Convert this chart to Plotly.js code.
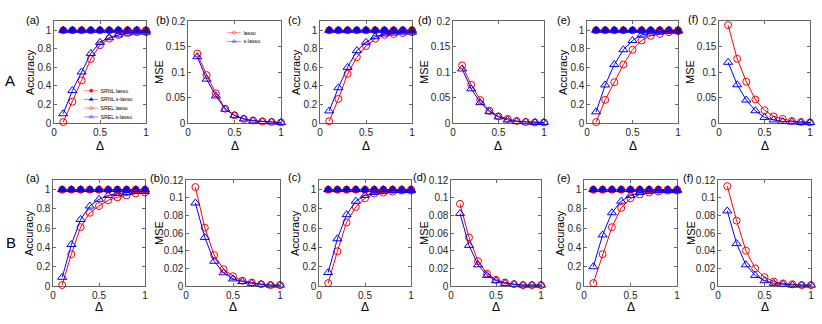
<!DOCTYPE html>
<html>
<head>
<meta charset="utf-8">
<script src="https://cdn.plot.ly/plotly-3.0.1.min.js"></script>
<style>
  html, body { margin:0; padding:0; background:#fff; }
  #chart { width:822px; height:324px; }
</style>
</head>
<body>
<div id="chart"></div>
<script>
// noise level on the x axis
const delta = [0.1, 0.2, 0.3, 0.4, 0.5, 0.6, 0.7, 0.8, 0.9, 1.0];

// SRNL curves (flat at 1 in every accuracy panel)
const srnlLasso  = [1, 1, 1, 1, 1, 1, 1, 1, 1, 1];
const srnlSLasso = [1, 1, 1, 1, 1, 1, 1, 1, 1, 1];

// row A
const accA_a_lasso  = [0.01, 0.23, 0.46, 0.69, 0.84, 0.91, 0.95, 0.97, 0.98, 0.98];
const accA_a_slasso = [0.10, 0.35, 0.55, 0.75, 0.87, 0.92, 0.95, 0.97, 0.98, 0.98];
const mseA_b_lasso  = [0.136, 0.094, 0.058, 0.028, 0.015, 0.008, 0.005, 0.003, 0.002, 0.001];
const mseA_b_slasso = [0.130, 0.086, 0.053, 0.027, 0.015, 0.008, 0.004, 0.003, 0.002, 0.001];
const accA_c_lasso  = [0.02, 0.26, 0.53, 0.71, 0.83, 0.91, 0.95, 0.96, 0.97, 0.98];
const accA_c_slasso = [0.13, 0.38, 0.60, 0.78, 0.87, 0.93, 0.96, 0.97, 0.98, 0.98];
const mseA_d_lasso  = [0.113, 0.075, 0.045, 0.024, 0.013, 0.008, 0.004, 0.002, 0.001, 0.001];
const mseA_d_slasso = [0.106, 0.067, 0.040, 0.022, 0.012, 0.006, 0.003, 0.002, 0.001, 0.001];
const accA_e_lasso  = [0.01, 0.25, 0.44, 0.63, 0.79, 0.89, 0.94, 0.96, 0.98, 0.99];
const accA_e_slasso = [0.12, 0.41, 0.63, 0.79, 0.89, 0.95, 0.97, 0.98, 0.99, 0.99];
const mseA_f_lasso  = [0.192, 0.126, 0.081, 0.046, 0.025, 0.013, 0.008, 0.004, 0.002, 0.001];
const mseA_f_slasso = [0.119, 0.075, 0.045, 0.024, 0.011, 0.006, 0.003, 0.002, 0.001, 0.001];

// row B
const accB_a_lasso  = [0.01, 0.33, 0.61, 0.76, 0.83, 0.89, 0.92, 0.94, 0.96, 0.97];
const accB_a_slasso = [0.09, 0.43, 0.69, 0.83, 0.90, 0.94, 0.96, 0.97, 0.98, 0.98];
const mseB_b_lasso  = [0.112, 0.066, 0.035, 0.019, 0.011, 0.006, 0.004, 0.002, 0.001, 0.001];
const mseB_b_slasso = [0.094, 0.055, 0.028, 0.015, 0.008, 0.005, 0.003, 0.002, 0.001, 0.001];
const accB_c_lasso  = [0.03, 0.36, 0.66, 0.82, 0.91, 0.96, 0.97, 0.98, 0.99, 0.99];
const accB_c_slasso = [0.14, 0.49, 0.74, 0.88, 0.94, 0.97, 0.98, 0.99, 0.99, 0.99];
const mseB_d_lasso  = [0.093, 0.055, 0.028, 0.014, 0.007, 0.004, 0.002, 0.001, 0.001, 0.001];
const mseB_d_slasso = [0.082, 0.046, 0.024, 0.012, 0.006, 0.003, 0.002, 0.001, 0.001, 0.001];
const accB_e_lasso  = [0.03, 0.33, 0.61, 0.81, 0.91, 0.95, 0.97, 0.98, 0.99, 0.99];
const accB_e_slasso = [0.20, 0.53, 0.76, 0.88, 0.94, 0.97, 0.98, 0.99, 0.99, 0.99];
const mseB_f_lasso  = [0.113, 0.074, 0.040, 0.020, 0.010, 0.005, 0.003, 0.002, 0.001, 0.001];
const mseB_f_slasso = [0.085, 0.048, 0.024, 0.012, 0.006, 0.003, 0.002, 0.001, 0.001, 0.001];

// tick labels
const xTickVals = [0, 0.5, 1];
const xTickText = ['0', '0.5', '1'];
const accTickVals = [0, 0.2, 0.4, 0.6, 0.8, 1];
const accTickText = ['0', '0.2', '0.4', '0.6', '0.8', '1'];
const mseATickVals = [0, 0.05, 0.1, 0.15, 0.2];
const mseATickText = ['0', '0.05', '0.1', '0.15', '0.2'];
const mseBTickVals = [0, 0.02, 0.04, 0.06, 0.08, 0.1, 0.12];
const mseBTickText = ['0', '0.02', '0.04', '0.06', '0.08', '0.1', '0.12'];

const panelLetters = ['(a)', '(b)', '(c)', '(d)', '(e)', '(f)'];
const rowNames = ['A', 'B'];

// ---- layout helpers (pixels -> paper) ----
const W = 822, H = 324;
const RED = '#ff0000', BLUE = '#0000ff', INK = '#262626';
const FONT = 'Liberation Sans, Arial, Helvetica, sans-serif';

// left/right pixel edge of each plot box, per row
const boxX = [
  [[54,146],[188,281],[320,412],[453,544],[587,678],[719,810]],
  [[53,145],[186,280],[319,411],[451,541],[584,677],[718,811]]
];
const boxY = [[21,123],[180,286]];
const deltaLabelY = [146, 307];
const letterPos = [
  [[24,20],[154,20],[286,20],[416,20],[555,20],[686,19]],
  [[24,178],[148,178],[286,177],[411,177],[555,178],[681,178]]
];
const rowLabelPos = [[3,80],[4,242]];
// how far left of the box the rotated y label sits
const yLabelGap = {acc:24, mseA:29, mseB:27};
const legendSpots = {legend:[82, 84], legend2:[225, 26]};
const legendScale = 0.46;

const panels = [
  {kind:'acc', lasso:accA_a_lasso, slasso:accA_a_slasso},
  {kind:'mseA', lasso:mseA_b_lasso, slasso:mseA_b_slasso},
  {kind:'acc', lasso:accA_c_lasso, slasso:accA_c_slasso},
  {kind:'mseA', lasso:mseA_d_lasso, slasso:mseA_d_slasso},
  {kind:'acc', lasso:accA_e_lasso, slasso:accA_e_slasso},
  {kind:'mseA', lasso:mseA_f_lasso, slasso:mseA_f_slasso},
  {kind:'acc', lasso:accB_a_lasso, slasso:accB_a_slasso},
  {kind:'mseB', lasso:mseB_b_lasso, slasso:mseB_b_slasso},
  {kind:'acc', lasso:accB_c_lasso, slasso:accB_c_slasso},
  {kind:'mseB', lasso:mseB_d_lasso, slasso:mseB_d_slasso},
  {kind:'acc', lasso:accB_e_lasso, slasso:accB_e_slasso},
  {kind:'mseB', lasso:mseB_f_lasso, slasso:mseB_f_slasso}
];

function line(x, y, xa, ya, color, symbol, size, extra){
  return Object.assign({
    x, y, xaxis:xa, yaxis:ya, type:'scatter', mode:'lines+markers',
    cliponaxis:false, hoverinfo:'skip', showlegend:false,
    line:{color, width:1},
    marker:{symbol, size, color, line:{color, width:1}}
  }, extra || {});
}

function label(text, px, py, size, angle){
  return {
    text, xref:'paper', yref:'paper', x:px / W, y:1 - py / H,
    xanchor:'center', yanchor:'middle', showarrow:false, textangle:angle || 0,
    font:{size, color:'#000', family:FONT}
  };
}

const traces = [];
const legendBase = {
  xanchor:'left', yanchor:'top', x:0, y:1,
  bgcolor:'rgba(0,0,0,0)', borderwidth:0,
  font:{size:11.5, color:'#000', family:FONT}, tracegroupgap:0
};
const layout = {
  width:W, height:H,
  margin:{l:0, r:0, t:0, b:0},
  paper_bgcolor:'#fff', plot_bgcolor:'#fff',
  font:{family:FONT, color:INK, size:10},
  annotations:[],
  legend:Object.assign({}, legendBase),
  legend2:Object.assign({}, legendBase)
};

panels.forEach((p, i) => {
  const row = Math.floor(i / 6), col = i % 6;
  const n = i + 1;
  const xa = n === 1 ? 'x' : 'x' + n;
  const ya = n === 1 ? 'y' : 'y' + n;
  const [l, r] = boxX[row][col];
  const [t, b] = boxY[row];

  const axCommon = {
    showline:true, mirror:'ticks', linecolor:INK, linewidth:0.7,
    ticks:'inside', ticklen:3, tickwidth:0.7, tickcolor:INK,
    showgrid:false, zeroline:false, fixedrange:true,
    tickfont:{size:10, color:INK, family:FONT}
  };

  layout['xaxis' + (n === 1 ? '' : n)] = Object.assign({}, axCommon, {
    domain:[l / W, r / W], anchor:ya, range:[0, 1],
    tickmode:'array', tickvals:xTickVals, ticktext:xTickText
  });

  let yRange, yv, yt, yTitle;
  if (p.kind === 'acc') { yRange = [0, 1.1]; yv = accTickVals; yt = accTickText; yTitle = 'Accuracy'; }
  else if (p.kind === 'mseA') { yRange = [0, 0.2]; yv = mseATickVals; yt = mseATickText; yTitle = 'MSE'; }
  else { yRange = [0, 0.12]; yv = mseBTickVals; yt = mseBTickText; yTitle = 'MSE'; }

  layout['yaxis' + (n === 1 ? '' : n)] = Object.assign({}, axCommon, {
    domain:[1 - b / H, 1 - t / H], anchor:xa, range:yRange,
    tickmode:'array', tickvals:yv, ticktext:yt
  });

  if (p.kind === 'acc') {
    const leg = i === 0 ? {showlegend:true, legend:'legend'} : {};
    traces.push(line(delta, srnlLasso, xa, ya, RED, 'circle', 7, Object.assign({name:'SRNL lasso'}, leg)));
    traces.push(line(delta, srnlSLasso, xa, ya, BLUE, 'triangle-up', 8, Object.assign({name:'SRNL s-lasso'}, leg)));
    traces.push(line(delta, p.lasso, xa, ya, RED, 'circle-open', 7, Object.assign({name:'SREL lasso'}, leg)));
    traces.push(line(delta, p.slasso, xa, ya, BLUE, 'triangle-up-open', 8, Object.assign({name:'SREL s-lasso'}, leg)));
  } else {
    const leg = i === 1 ? {showlegend:true, legend:'legend2'} : {};
    traces.push(line(delta, p.lasso, xa, ya, RED, 'circle-open', 7, Object.assign({name:'lasso'}, leg)));
    traces.push(line(delta, p.slasso, xa, ya, BLUE, 'triangle-up-open', 8, Object.assign({name:'s-lasso'}, leg)));
  }

  // axis labels as annotations so they hug the tick labels like MATLAB does
  layout.annotations.push(label(yTitle, l - yLabelGap[p.kind], (t + b) / 2, 11, -90));
  layout.annotations.push(label('Δ', (l + r) / 2, deltaLabelY[row], 12));

  const [lx, ly] = letterPos[row][col];
  const letter = label(panelLetters[col], lx, ly, 11);
  letter.xanchor = 'left';
  layout.annotations.push(letter);
});

rowNames.forEach((name, r) => {
  const [rx, ry] = rowLabelPos[r];
  const a = label(name, rx, ry, 15);
  a.xanchor = 'left';
  layout.annotations.push(a);
});

Plotly.newPlot('chart', traces, layout, {displayModeBar:false, staticPlot:true}).then(() => {
  // MATLAB legends are tiny: shrink each legend group, then park its box at the wanted spot
  Object.keys(legendSpots).forEach(key => {
    const g = document.querySelector('g.' + key);
    if (!g) return;
    const [tx, ty] = legendSpots[key];
    g.setAttribute('transform', `translate(0,0) scale(${legendScale})`);
    const box = g.getBoundingClientRect();
    const root = document.getElementById('chart').getBoundingClientRect();
    g.setAttribute('transform',
      `translate(${tx - (box.left - root.left)},${ty - (box.top - root.top)}) scale(${legendScale})`);
  });
});
</script>
</body>
</html>
